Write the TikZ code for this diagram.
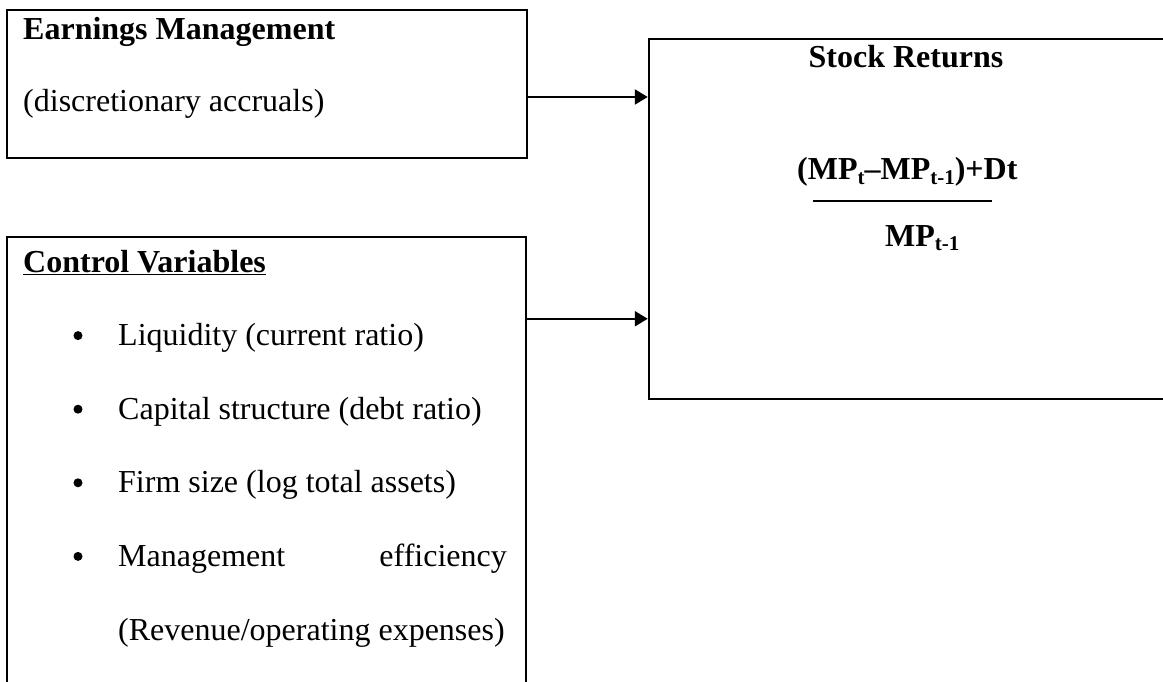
\documentclass[tikz,border=0pt]{standalone}
\usepackage{fontspec}
\setmainfont{Liberation Serif}
\usepackage{tikz}
\usetikzlibrary{arrows.meta,positioning,calc}
\newcommand{\lowsub}[1]{\raisebox{-5pt}{\fontsize{21}{21}\selectfont #1}}

\begin{document}
\begin{tikzpicture}[
  x=1pt, y=-1pt,
  font=\fontsize{32}{38}\selectfont,
  box/.style={draw, line width=2.5pt, inner sep=0pt},
  txt/.style={anchor=base west, inner sep=0pt},
  head/.style={txt, font=\fontsize{32}{38}\selectfont\bfseries},
  flow/.style={-{Triangle[length=13pt, width=15pt]}, line width=2.4pt},
  dot/.style={circle, fill, inner sep=0pt, minimum size=9pt},
]
\useasboundingbox (0,0) rectangle (1163,682);
\clip (0,0) rectangle (1163,682);

% the three boxes (control and returns run off the page)
\node[box, minimum width=520pt, minimum height=148pt] (earn) at (267,84) {};
\node[box, minimum width=519pt, minimum height=483pt] (ctrl) at (266.5,478.5) {};
\node[box, minimum width=531pt, minimum height=360pt] (stock) at (914.5,219) {};

\node[head] (earnT) at (23,40) {Earnings Management};
\node[txt] (earnS) at (23,112) {(discretionary accruals)};

\node[head] (ctrlT) at (23,272) {\underline{Control Variables}};
\foreach \i/\y/\t in {1/345.6/Liquidity (current ratio),
                      2/419.2/Capital structure (debt ratio),
                      3/492.8/Firm size (log total assets),
                      4/566.4/Management} {
  \node[dot] (b\i) at (78,\y-10) {};
  \node[txt] (v\i) at (118,\y) {\t};
}
\node[txt, anchor=base east] (v4b) at (507,566.4) {efficiency};
\node[txt] (v5) at (118,640) {(Revenue/operating expenses)};

% dependent variable
\node[head, anchor=base] (srT) at (906,68) {Stock Returns};
\node[head] (num) at (797,180) {(MP\lowsub{t}–MP\lowsub{t-1})+Dt};
\draw[line width=1.8pt] (813,201) -- (992,201);
\node[head] (den) at (885,246) {MP\lowsub{t-1}};

\coordinate (e1) at ([yshift=-13pt]earn.east);
\coordinate (c1) at ([yshift=-83pt]ctrl.north east);
\draw[flow] (e1) -- (e1 -| stock.west);
\draw[flow] (c1) -- (c1 -| stock.west);
\end{tikzpicture}
\end{document}
